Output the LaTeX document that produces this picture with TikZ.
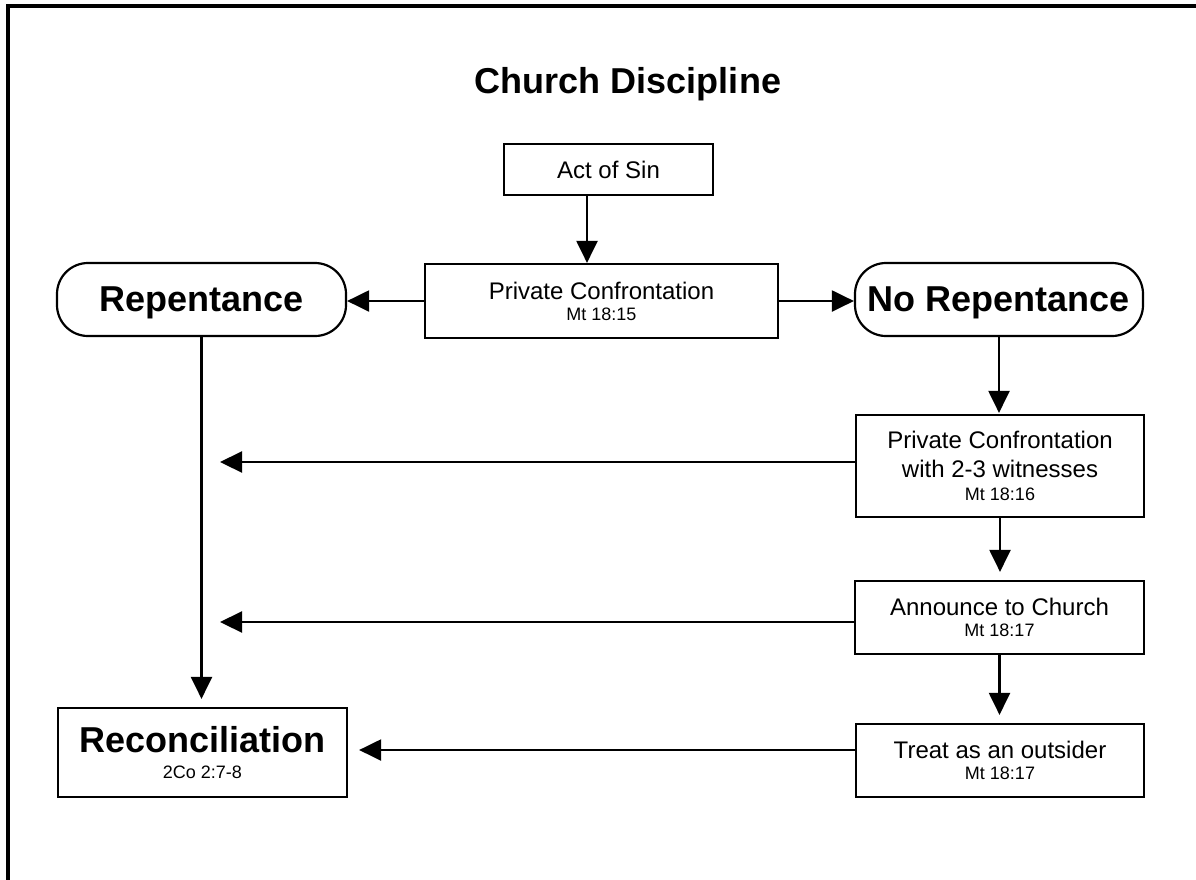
\documentclass[tikz,border=0pt]{standalone}
\usepackage{fontspec}
\setmainfont{Liberation Sans}
\usetikzlibrary{arrows.meta}
\newcommand\vrs[1]{{\fontsize{18}{22}\selectfont #1}}
\begin{document}
\begin{tikzpicture}[x=1pt,y=-1pt,
  box/.style={draw, line width=2.2pt, inner sep=0pt, align=center,
    font=\fontsize{24}{29}\selectfont},
  pill/.style={box, rounded corners=31pt, text depth=-2pt, font=\bfseries\fontsize{36}{40}\selectfont},
  arr/.style={line width=2.2pt, -{Triangle[length=22pt,width=21pt]}},
  frame/.style={line width=4pt}
]
\useasboundingbox (0,0) rectangle (1196,879);
\draw[frame] (8,900) -- (8,6) -- (1220,6);

\node[font=\bfseries\fontsize{36}{40}\selectfont, anchor=base] (title) at (628,93) {Church Discipline};

\node[box, minimum width=209pt, minimum height=51pt] (act) at (608.5,169.5) {Act of Sin};
\node[box, minimum width=353pt, minimum height=74pt] (pc) at (601.5,301)
  {Private Confrontation\\[-8pt]\vrs{Mt 18:15}};
\node[pill, minimum width=289pt, minimum height=73pt] (rep) at (201.5,299.5) {Repentance};
\node[pill, minimum width=288pt, minimum height=73pt] (nr) at (999,299.5) {No Repentance};
\node[box, minimum width=289pt, minimum height=89pt] (rec) at (202.5,752.5)
  {{\bfseries\fontsize{36}{40}\selectfont Reconciliation}\\[-3pt]\vrs{2Co 2:7-8}};
\node[box, minimum width=288pt, minimum height=102pt] (pcw) at (1000,466)
  {Private Confrontation\\with 2-3 witnesses\\[-6pt]\vrs{Mt 18:16}};
\node[box, minimum width=289pt, minimum height=73pt] (ann) at (999.5,617.5)
  {Announce to Church\\[-8pt]\vrs{Mt 18:17}};
\node[box, minimum width=288pt, minimum height=73pt] (treat) at (1000,760.5)
  {Treat as an outsider\\[-8pt]\vrs{Mt 18:17}};

\coordinate (ax) at (587,0);
\coordinate (l1) at (220,462);
\coordinate (l2) at (220,622);
\coordinate (l3) at (0,750);

\draw[arr] (act.south -| ax) -- (pc.north -| ax);
\draw[arr] (pc.west) -- (pc.west -| rep.east);
\draw[arr] (pc.east) -- (pc.east -| nr.west);
\draw[arr, shorten >=8pt] (rep.south) -- (rep.south |- rec.north);
\draw[arr, shorten >=1pt] (nr.south) -- (nr.south |- pcw.north);
\draw[arr, shorten >=8pt] (pcw.south) -- (pcw.south |- ann.north);
\draw[arr, shorten >=8pt] (ann.south) -- (ann.south |- treat.north);
\draw[arr] (pcw.west |- l1) -- (l1);
\draw[arr] (ann.west |- l2) -- (l2);
\draw[arr, shorten >=11pt] (treat.west |- l3) -- (rec.east |- l3);
\end{tikzpicture}
\end{document}
